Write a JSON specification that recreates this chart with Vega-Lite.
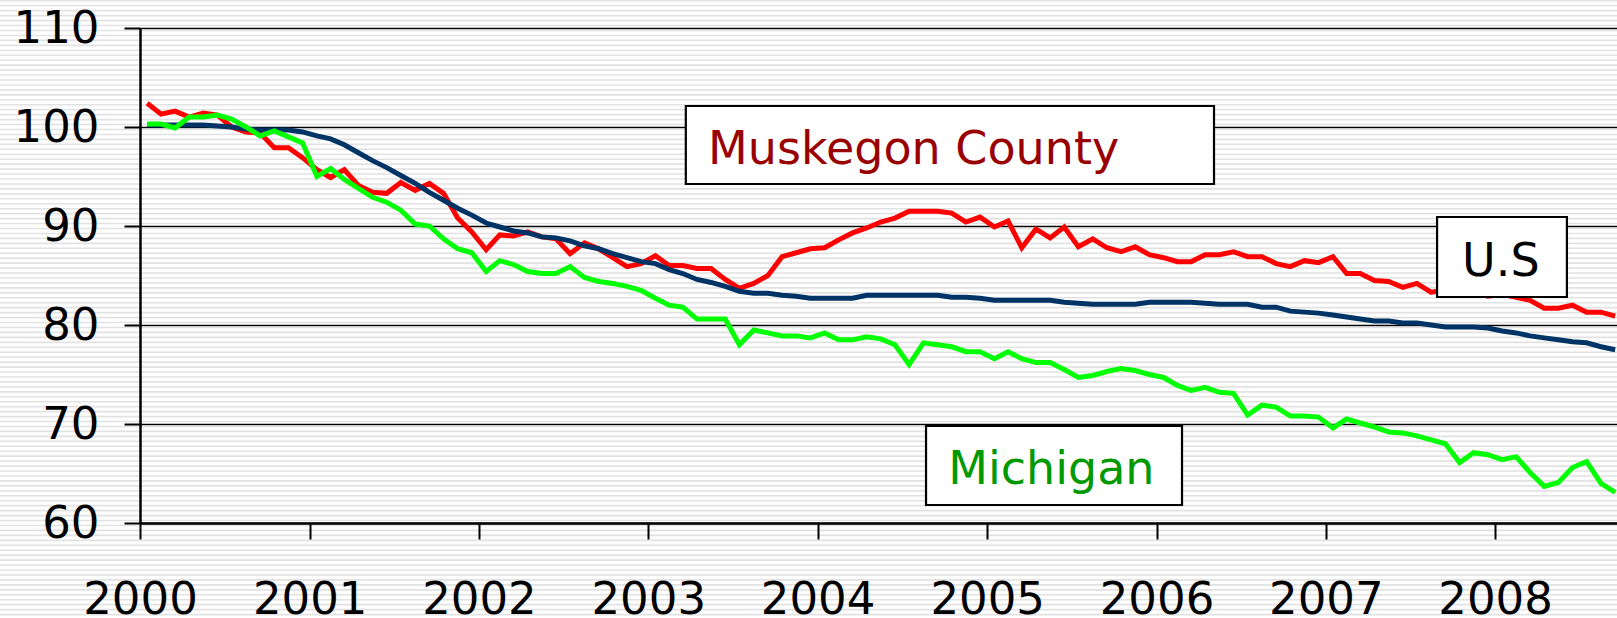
{
  "$schema": "https://vega.github.io/schema/vega-lite/v6.json",
  "width": 1477,
  "height": 495,
  "autosize": {"type": "none"},
  "padding": {"left": 140, "top": 28, "right": 0, "bottom": 95},
  "background": "#ffffff",
  "config": {"view": {"stroke": null}, "font": "DejaVu Sans"},
  "resolve": {"axis": {"y": "independent"}},
  "layer": [
    {
      "data": {"values": [
        {"s":112.75},{"s":112.25},{"s":111.75},{"s":111.25},{"s":110.75},{"s":110.25},{"s":109.75},{"s":109.25},{"s":108.75},{"s":108.25},
        {"s":107.75},{"s":107.25},{"s":106.75},{"s":106.25},{"s":105.75},{"s":105.25},{"s":104.75},{"s":104.25},{"s":103.75},{"s":103.25},
        {"s":102.75},{"s":102.25},{"s":101.75},{"s":101.25},{"s":100.75},{"s":100.25},{"s":99.75},{"s":99.25},{"s":98.75},{"s":98.25},
        {"s":97.75},{"s":97.25},{"s":96.75},{"s":96.25},{"s":95.75},{"s":95.25},{"s":94.75},{"s":94.25},{"s":93.75},{"s":93.25},
        {"s":92.75},{"s":92.25},{"s":91.75},{"s":91.25},{"s":90.75},{"s":90.25},{"s":89.75},{"s":89.25},{"s":88.75},{"s":88.25},
        {"s":87.75},{"s":87.25},{"s":86.75},{"s":86.25},{"s":85.75},{"s":85.25},{"s":84.75},{"s":84.25},{"s":83.75},{"s":83.25},
        {"s":82.75},{"s":82.25},{"s":81.75},{"s":81.25},{"s":80.75},{"s":80.25},{"s":79.75},{"s":79.25},{"s":78.75},{"s":78.25},
        {"s":77.75},{"s":77.25},{"s":76.75},{"s":76.25},{"s":75.75},{"s":75.25},{"s":74.75},{"s":74.25},{"s":73.75},{"s":73.25},
        {"s":72.75},{"s":72.25},{"s":71.75},{"s":71.25},{"s":70.75},{"s":70.25},{"s":69.75},{"s":69.25},{"s":68.75},{"s":68.25},
        {"s":67.75},{"s":67.25},{"s":66.75},{"s":66.25},{"s":65.75},{"s":65.25},{"s":64.75},{"s":64.25},{"s":63.75},{"s":63.25},
        {"s":62.75},{"s":62.25},{"s":61.75},{"s":61.25},{"s":60.75},{"s":60.25},{"s":59.75},{"s":59.25},{"s":58.75},{"s":58.25},
        {"s":57.75},{"s":57.25},{"s":56.75},{"s":56.25},{"s":55.75},{"s":55.25},{"s":54.75},{"s":54.25},{"s":53.75},{"s":53.25},
        {"s":52.75},{"s":52.25},{"s":51.75},{"s":51.25},{"s":50.75},{"s":50.25}
      ]},
      "mark": {"type": "rule", "clip": false, "color": "#e2e2e2", "strokeWidth": 1.6},
      "encoding": {
        "y": {"field": "s", "type": "quantitative", "title": null, "scale": {"domain": [60, 110], "zero": false, "nice": false},
              "axis": {"orient": "left", "values": [60, 70, 80, 90, 100, 110], "title": null, "grid": true, "gridColor": "#000000", "gridWidth": 1.5, "gridOpacity": 1,
                       "labels": false, "ticks": false, "domain": false, "zindex": 0}},
        "x": {"datum": {"year": 1999, "month": 1, "date": 1, "utc": true}, "type": "temporal", "title": null,
              "scale": {"type": "utc", "nice": false, "domain": [{"year": 2000, "month": 1, "date": 1, "utc": true}, {"year": 2008, "month": 9, "date": 20, "utc": true}]}},
        "x2": {"datum": {"year": 2009, "month": 12, "date": 1, "utc": true}}
      }
    },
    {
      "data": {"values": [
        {"m":"2000-01","mus":102.4,"us":100.2,"mi":100.3},
        {"m":"2000-02","mus":101.3,"us":100.2,"mi":100.3},
        {"m":"2000-03","mus":101.6,"us":100.2,"mi":99.9},
        {"m":"2000-04","mus":101.0,"us":100.2,"mi":101.0},
        {"m":"2000-05","mus":101.4,"us":100.2,"mi":101.0},
        {"m":"2000-06","mus":101.2,"us":100.1,"mi":101.2},
        {"m":"2000-07","mus":100.0,"us":100.0,"mi":100.8},
        {"m":"2000-08","mus":99.5,"us":99.8,"mi":100.0},
        {"m":"2000-09","mus":99.4,"us":99.7,"mi":99.1},
        {"m":"2000-10","mus":97.9,"us":99.7,"mi":99.6},
        {"m":"2000-11","mus":97.9,"us":99.7,"mi":99.0},
        {"m":"2000-12","mus":96.9,"us":99.5,"mi":98.4},
        {"m":"2001-01","mus":95.7,"us":99.1,"mi":95.0},
        {"m":"2001-02","mus":94.9,"us":98.8,"mi":95.8},
        {"m":"2001-03","mus":95.7,"us":98.2,"mi":94.7},
        {"m":"2001-04","mus":94.1,"us":97.4,"mi":93.8},
        {"m":"2001-05","mus":93.4,"us":96.6,"mi":92.9},
        {"m":"2001-06","mus":93.3,"us":95.9,"mi":92.4},
        {"m":"2001-07","mus":94.4,"us":95.1,"mi":91.6},
        {"m":"2001-08","mus":93.6,"us":94.3,"mi":90.2},
        {"m":"2001-09","mus":94.3,"us":93.4,"mi":90.0},
        {"m":"2001-10","mus":93.3,"us":92.6,"mi":88.7},
        {"m":"2001-11","mus":90.8,"us":91.8,"mi":87.7},
        {"m":"2001-12","mus":89.4,"us":91.1,"mi":87.3},
        {"m":"2002-01","mus":87.6,"us":90.3,"mi":85.4},
        {"m":"2002-02","mus":89.1,"us":89.9,"mi":86.5},
        {"m":"2002-03","mus":89.0,"us":89.5,"mi":86.1},
        {"m":"2002-04","mus":89.4,"us":89.3,"mi":85.4},
        {"m":"2002-05","mus":88.9,"us":88.9,"mi":85.2},
        {"m":"2002-06","mus":88.7,"us":88.8,"mi":85.2},
        {"m":"2002-07","mus":87.2,"us":88.5,"mi":85.9},
        {"m":"2002-08","mus":88.3,"us":88.0,"mi":84.8},
        {"m":"2002-09","mus":87.7,"us":87.7,"mi":84.4},
        {"m":"2002-10","mus":86.8,"us":87.2,"mi":84.2},
        {"m":"2002-11","mus":85.9,"us":86.8,"mi":83.9},
        {"m":"2002-12","mus":86.2,"us":86.4,"mi":83.5},
        {"m":"2003-01","mus":87.0,"us":86.2,"mi":82.7},
        {"m":"2003-02","mus":86.0,"us":85.6,"mi":82.0},
        {"m":"2003-03","mus":86.0,"us":85.2,"mi":81.8},
        {"m":"2003-04","mus":85.7,"us":84.6,"mi":80.6},
        {"m":"2003-05","mus":85.7,"us":84.3,"mi":80.6},
        {"m":"2003-06","mus":84.6,"us":83.9,"mi":80.6},
        {"m":"2003-07","mus":83.7,"us":83.4,"mi":78.0},
        {"m":"2003-08","mus":84.2,"us":83.2,"mi":79.5},
        {"m":"2003-09","mus":85.0,"us":83.2,"mi":79.2},
        {"m":"2003-10","mus":86.9,"us":83.0,"mi":78.9},
        {"m":"2003-11","mus":87.3,"us":82.9,"mi":78.9},
        {"m":"2003-12","mus":87.7,"us":82.7,"mi":78.7},
        {"m":"2004-01","mus":87.8,"us":82.7,"mi":79.2},
        {"m":"2004-02","mus":88.6,"us":82.7,"mi":78.5},
        {"m":"2004-03","mus":89.3,"us":82.7,"mi":78.5},
        {"m":"2004-04","mus":89.8,"us":83.0,"mi":78.8},
        {"m":"2004-05","mus":90.4,"us":83.0,"mi":78.6},
        {"m":"2004-06","mus":90.8,"us":83.0,"mi":78.0},
        {"m":"2004-07","mus":91.5,"us":83.0,"mi":76.0},
        {"m":"2004-08","mus":91.5,"us":83.0,"mi":78.2},
        {"m":"2004-09","mus":91.5,"us":83.0,"mi":78.0},
        {"m":"2004-10","mus":91.3,"us":82.8,"mi":77.8},
        {"m":"2004-11","mus":90.4,"us":82.8,"mi":77.3},
        {"m":"2004-12","mus":90.9,"us":82.7,"mi":77.3},
        {"m":"2005-01","mus":89.9,"us":82.5,"mi":76.6},
        {"m":"2005-02","mus":90.5,"us":82.5,"mi":77.3},
        {"m":"2005-03","mus":87.8,"us":82.5,"mi":76.6},
        {"m":"2005-04","mus":89.7,"us":82.5,"mi":76.2},
        {"m":"2005-05","mus":88.8,"us":82.5,"mi":76.2},
        {"m":"2005-06","mus":89.9,"us":82.3,"mi":75.5},
        {"m":"2005-07","mus":87.9,"us":82.2,"mi":74.7},
        {"m":"2005-08","mus":88.7,"us":82.1,"mi":74.9},
        {"m":"2005-09","mus":87.8,"us":82.1,"mi":75.3},
        {"m":"2005-10","mus":87.4,"us":82.1,"mi":75.6},
        {"m":"2005-11","mus":87.9,"us":82.1,"mi":75.4},
        {"m":"2005-12","mus":87.1,"us":82.3,"mi":75.0},
        {"m":"2006-01","mus":86.8,"us":82.3,"mi":74.7},
        {"m":"2006-02","mus":86.4,"us":82.3,"mi":73.9},
        {"m":"2006-03","mus":86.4,"us":82.3,"mi":73.4},
        {"m":"2006-04","mus":87.1,"us":82.2,"mi":73.7},
        {"m":"2006-05","mus":87.1,"us":82.1,"mi":73.2},
        {"m":"2006-06","mus":87.4,"us":82.1,"mi":73.1},
        {"m":"2006-07","mus":86.9,"us":82.1,"mi":70.9},
        {"m":"2006-08","mus":86.9,"us":81.8,"mi":71.9},
        {"m":"2006-09","mus":86.2,"us":81.8,"mi":71.7},
        {"m":"2006-10","mus":85.9,"us":81.4,"mi":70.8},
        {"m":"2006-11","mus":86.5,"us":81.3,"mi":70.8},
        {"m":"2006-12","mus":86.3,"us":81.2,"mi":70.7},
        {"m":"2007-01","mus":86.9,"us":81.0,"mi":69.6},
        {"m":"2007-02","mus":85.2,"us":80.8,"mi":70.5},
        {"m":"2007-03","mus":85.2,"us":80.6,"mi":70.1},
        {"m":"2007-04","mus":84.5,"us":80.4,"mi":69.7},
        {"m":"2007-05","mus":84.4,"us":80.4,"mi":69.2},
        {"m":"2007-06","mus":83.8,"us":80.2,"mi":69.1},
        {"m":"2007-07","mus":84.2,"us":80.2,"mi":68.8},
        {"m":"2007-08","mus":83.3,"us":80.0,"mi":68.4},
        {"m":"2007-09","mus":83.6,"us":79.8,"mi":68.0},
        {"m":"2007-10","mus":83.1,"us":79.8,"mi":66.1},
        {"m":"2007-11","mus":83.4,"us":79.8,"mi":67.1},
        {"m":"2007-12","mus":82.9,"us":79.7,"mi":66.9},
        {"m":"2008-01","mus":83.1,"us":79.4,"mi":66.4},
        {"m":"2008-02","mus":82.8,"us":79.2,"mi":66.7},
        {"m":"2008-03","mus":82.5,"us":78.9,"mi":65.1},
        {"m":"2008-04","mus":81.7,"us":78.7,"mi":63.7},
        {"m":"2008-05","mus":81.7,"us":78.5,"mi":64.1},
        {"m":"2008-06","mus":82.0,"us":78.3,"mi":65.6},
        {"m":"2008-07","mus":81.3,"us":78.2,"mi":66.2},
        {"m":"2008-08","mus":81.3,"us":77.8,"mi":64.0},
        {"m":"2008-09","mus":80.9,"us":77.5,"mi":63.1}
      ]},
      "transform": [{"fold": ["mus", "us", "mi"], "as": ["series", "v"]}],
      "mark": {"type": "line", "strokeWidth": 5},
      "encoding": {
        "x": {
          "field": "m", "type": "temporal", "timeUnit": "utcyearmonth", "bandPosition": 0.5, "title": null,
          "scale": {"type": "utc", "nice": false, "domain": [{"year": 2000, "month": 1, "date": 1, "utc": true}, {"year": 2008, "month": 9, "date": 20, "utc": true}]},
          "axis": {
            "values": [
              {"year": 2000, "month": 1, "date": 1, "utc": true},
              {"year": 2001, "month": 1, "date": 1, "utc": true},
              {"year": 2002, "month": 1, "date": 1, "utc": true},
              {"year": 2003, "month": 1, "date": 1, "utc": true},
              {"year": 2004, "month": 1, "date": 1, "utc": true},
              {"year": 2005, "month": 1, "date": 1, "utc": true},
              {"year": 2006, "month": 1, "date": 1, "utc": true},
              {"year": 2007, "month": 1, "date": 1, "utc": true},
              {"year": 2008, "month": 1, "date": 1, "utc": true}
            ],
            "labelExpr": "utcFormat(datum.value, '%Y')", "title": null, "grid": false,
            "domainColor": "#000000", "domainWidth": 2.5, "tickColor": "#000000", "tickWidth": 2, "tickSize": 16,
            "labelFont": "DejaVu Sans", "labelFontSize": 45, "labelColor": "#000000", "labelBaseline": "alphabetic", "labelLimit": 400,
            "labelPadding": 74, "labelDx": 6, "labelFlush": false, "labelOverlap": false, "labelBound": false, "zindex": 1
          }
        },
        "y": {
          "field": "v", "type": "quantitative", "title": null,
          "scale": {"domain": [60, 110], "zero": false, "nice": false},
          "axis": {
            "orient": "left", "values": [60, 70, 80, 90, 100, 110], "title": null, "grid": false,
            "domainColor": "#000000", "domainWidth": 2.5, "tickColor": "#000000", "tickWidth": 2, "tickSize": 16,
            "labelFont": "DejaVu Sans", "labelFontSize": 45, "labelColor": "#000000", "labelPadding": 25, "labelLimit": 400,
            "labelFlush": false, "labelOverlap": false, "labelBound": false, "zindex": 1
          }
        },
        "color": {
          "field": "series", "type": "nominal",
          "scale": {"domain": ["mus", "us", "mi"], "range": ["#ff0000", "#003366", "#00ff00"]},
          "legend": null
        }
      }
    },
    {
      "data": {"values": [{}]},
      "mark": {"type": "rect", "fill": "#ffffff", "stroke": "#000000", "strokeWidth": 2.2},
      "encoding": {
        "x": {"datum": {"year": 2003, "month": 3, "date": 23, "utc": true}, "type": "temporal", "title": null},
        "x2": {"datum": {"year": 2006, "month": 5, "date": 5, "utc": true}},
        "y": {"datum": 102.12, "type": "quantitative", "title": null, "axis": null},
        "y2": {"datum": 94.24}
      }
    },
    {
      "data": {"values": [{}]},
      "mark": {"type": "text", "text": "Muskegon County", "align": "left", "baseline": "alphabetic", "font": "DejaVu Sans", "fontSize": 46, "color": "#990000"},
      "encoding": {
        "x": {"datum": {"year": 2003, "month": 5, "date": 10, "utc": true}, "type": "temporal", "title": null},
        "y": {"datum": 96.26, "type": "quantitative", "title": null, "axis": null}
      }
    },
    {
      "data": {"values": [{}]},
      "mark": {"type": "rect", "fill": "#ffffff", "stroke": "#000000", "strokeWidth": 2.2},
      "encoding": {
        "x": {"datum": {"year": 2004, "month": 8, "date": 22, "utc": true}, "type": "temporal", "title": null},
        "x2": {"datum": {"year": 2006, "month": 2, "date": 25, "utc": true}},
        "y": {"datum": 69.8, "type": "quantitative", "title": null, "axis": null},
        "y2": {"datum": 61.82}
      }
    },
    {
      "data": {"values": [{}]},
      "mark": {"type": "text", "text": "Michigan", "align": "left", "baseline": "alphabetic", "font": "DejaVu Sans", "fontSize": 46, "color": "#009900"},
      "encoding": {
        "x": {"datum": {"year": 2004, "month": 10, "date": 9, "utc": true}, "type": "temporal", "title": null},
        "y": {"datum": 63.94, "type": "quantitative", "title": null, "axis": null}
      }
    },
    {
      "data": {"values": [{}]},
      "mark": {"type": "rect", "fill": "#ffffff", "stroke": "#000000", "strokeWidth": 2.2},
      "encoding": {
        "x": {"datum": {"year": 2007, "month": 8, "date": 29, "utc": true}, "type": "temporal", "title": null},
        "x2": {"datum": {"year": 2008, "month": 6, "date": 4, "utc": true}},
        "y": {"datum": 90.91, "type": "quantitative", "title": null, "axis": null},
        "y2": {"datum": 82.83}
      }
    },
    {
      "data": {"values": [{}]},
      "mark": {"type": "text", "text": "U.S", "align": "left", "baseline": "alphabetic", "font": "DejaVu Sans", "fontSize": 46, "color": "#000000"},
      "encoding": {
        "x": {"datum": {"year": 2007, "month": 10, "date": 22, "utc": true}, "type": "temporal", "title": null},
        "y": {"datum": 84.95, "type": "quantitative", "title": null, "axis": null}
      }
    }
  ]
}
